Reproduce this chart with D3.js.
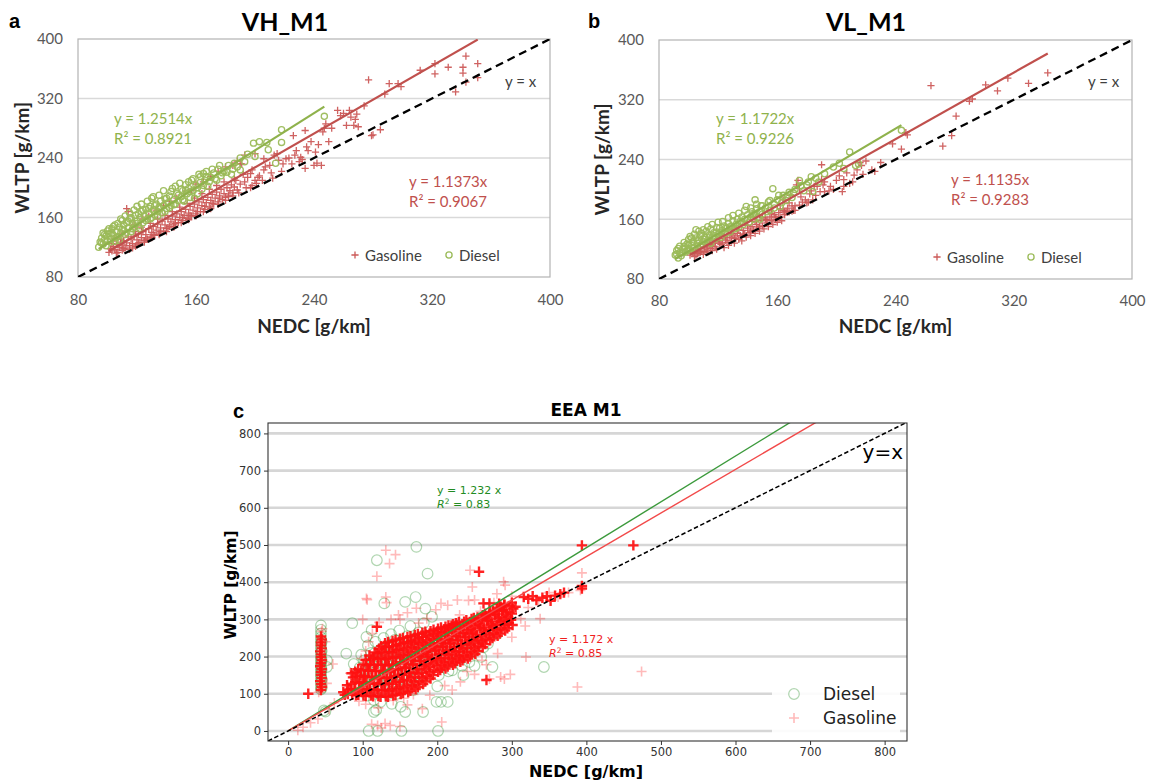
<!DOCTYPE html>
<html>
<head>
<meta charset="utf-8">
<script src="https://cdn.jsdelivr.net/npm/d3@7"></script>
<style>
  body { margin: 0; background: #fff; }
  svg { display: block; }
</style>
</head>
<body>
<svg id="fig" width="1151" height="783"></svg>
<script>
// ---------------- data: NEDC vs WLTP CO2 [g/km] ----------------
const ticksAB = [80, 160, 240, 320, 400];
const ticksC = [0, 100, 200, 300, 400, 500, 600, 700, 800];
const panelTitles = ["VH_M1", "VL_M1", "EEA M1"];
const seriesNames = ["Gasoline", "Diesel"];

const slopesVH = [1.1373, 1.2514];   // gasoline, diesel
const r2VH = ["0.9067", "0.8921"];
const slopesVL = [1.1135, 1.1722];
const r2VL = ["0.9283", "0.9226"];
const slopesEEA = [1.172, 1.232];
const r2EEA = ["0.85", "0.83"];

// VH_M1 gasoline
const gasolineVH = [
[101,113],[102,118],[103,115],[104,121],[105,117],[106,124],[107,113],[108,120],[109,127],[110,116],
[110,123],[111,129],[112,119],[113,126],[113,172],[114,168],[115,122],[116,131],[117,125],[118,135],
[119,121],[120,130],[121,138],[122,126],[123,133],[124,141],[125,129],[126,137],[127,131],[128,145],
[129,134],[130,140],[131,148],[132,136],[133,143],[134,151],[135,139],[136,146],[137,155],[138,142],
[139,150],[140,145],[141,158],[142,148],[143,154],[144,162],[145,150],[146,157],[147,165],[148,153],
[149,160],[150,168],[151,156],[152,163],[153,171],[154,159],[155,166],[156,175],[157,162],[158,170],
[159,178],[160,165],[161,173],[162,181],[163,168],[164,176],[165,184],[166,171],[167,180],[168,187],
[169,174],[170,183],[171,191],[172,178],[173,186],[174,194],[175,181],[176,189],[177,198],[178,184],
[179,192],[180,187],[181,200],[182,190],[183,196],[184,204],[185,193],[186,201],[187,210],[188,197],
[190,205],[191,232],[193,244],[193,208],[195,214],[197,219],[197,200],[198,203],[200,246],[200,210],
[201,206],[203,216],[205,210],[206,224],[206,239],[210,230],[212,213],[213,244],[216,237],[218,222],
[221,239],[225,232],[226,270],[227,244],[230,235],[231,241],[234,277],[234,226],[235,255],[236,250],
[240,230],[241,248],[242,233],[245,230],[246,275],[247,280],[248,286],[256,304],[258,297],[262,284],
[264,304],[265,295],[267,284],[269,299],[270,282],[277,345],[279,270],[280,271],[285,278],[288,326],
[291,340],[297,340],[299,336],[312,358],[322,367],[322,353],[331,362],[336,329],[341,362],[341,354],
[343,342],[343,377],[351,367],[351,348],
[115,117],[125,127],[135,137],[140,141],[150,153],[155,157],[160,162],[165,168],[170,172],[175,178],
[180,183],[185,189],[145,147],[130,133],[120,123],
[105,132],[110,138],[118,150],[124,158],[128,162],[133,170],[138,176],[142,182],[147,186],[152,192],
[157,197],[160,205],[165,208],[170,215],[175,222],[180,228],[185,230],[188,236],[190,232],
[103,125],[106,112],[109,131],[111,118],[114,134],[117,119],[119,141],[121,126],[123,147],[126,131],
[129,152],[131,137],[134,158],[136,141],[139,163],[141,146],[144,168],[146,152],[149,174],[151,160],
[154,179],[156,163],[159,186],[161,168],[164,192],[166,175],[169,198],[171,179],[174,203],[176,186],
[179,208],[182,188],[186,212],[189,193],[192,218],[194,200],[198,224],[202,214],[207,228],[211,220],
[215,246],[219,232],[223,240],[228,250],[232,238],[238,262],[243,258],[250,262],[252,280],[260,300],
[268,292],[274,310]
];

// VH_M1 diesel
const dieselVH = [
[94,120],[95,127],[96,132],[97,124],[97,139],[98,130],[99,135],[100,128],[100,142],[101,138],
[102,131],[103,145],[104,136],[105,128],[105,150],[106,141],[107,134],[108,147],[109,139],[110,156],
[110,144],[111,150],[112,137],[113,153],[114,146],[115,158],[116,141],[116,160],[117,152],[118,147],
[119,163],[120,155],[120,175],[121,149],[122,160],[123,168],[124,153],[125,162],[126,171],[127,158],
[128,166],[129,175],[130,186],[130,160],[131,170],[132,164],[133,178],[134,168],[135,174],[136,182],
[137,166],[138,176],[139,185],[140,172],[141,180],[142,189],[143,176],[144,199],[145,184],[146,178],
[147,192],[148,183],[149,206],[150,188],[151,196],[152,182],[153,204],[154,192],[155,199],[156,187],
[157,210],[158,196],[160,203],[161,192],[162,218],[163,207],[164,198],[165,219],[166,210],[167,215],
[168,202],[170,214],[172,220],[174,210],[175,225],[177,216],[179,222],[181,221],[184,218],[186,233],
[188,228],[190,224],[193,235],[199,260],[203,262],[208,261],[209,251],[214,233],[218,278],[218,261],
[247,296],
[96,126],[98,137],[99,122],[101,145],[102,127],[103,139],[104,148],[106,133],[107,152],[108,129],
[109,158],[111,143],[112,162],[113,140],[114,155],[115,166],[117,145],[118,170],[119,152],[121,165],
[122,145],[123,178],[124,170],[126,156],[127,182],[128,172],[129,158],[131,188],[132,176],[134,162],
[135,190],[136,172],[138,196],[139,168],[140,186],[142,173],[143,195],[145,177],[146,202],[148,190],
[150,198],[151,184],[153,197],[155,208],[156,195],[158,212],[159,186],[161,200],[163,215],[165,203],
[167,222],[169,208],[171,225],[173,212],[176,230],[178,220],[182,230],[185,225],[190,240],[195,245],
[200,242]
];

// VL_M1 gasoline
const gasolineVL = [
[101,112],[103,116],[104,110],[105,119],[106,114],[107,115],[108,121],[109,117],[110,113],[111,123],
[112,119],[113,116],[114,126],[115,121],[116,118],[117,128],[118,123],[119,120],[120,131],[121,134],
[122,126],[123,128],[124,122],[125,132],[126,129],[127,125],[128,136],[129,131],[130,139],[131,128],
[132,135],[133,141],[134,133],[135,138],[136,131],[137,145],[138,140],[139,136],[140,148],[141,142],
[142,138],[143,150],[144,145],[145,141],[146,153],[147,148],[148,144],[149,158],[150,151],[151,147],
[152,160],[153,155],[154,150],[155,163],[156,158],[157,153],[158,166],[159,160],[160,156],[161,169],
[162,163],[163,158],[164,186],[164,172],[165,166],[166,170],[167,175],[168,170],[169,192],[170,171],
[170,178],[171,172],[172,172],[173,206],[174,212],[175,201],[175,179],[177,183],[180,182],[181,183],
[182,194],[184,186],[185,204],[187,204],[189,197],[190,233],[190,213],[191,206],[192,197],[196,204],
[198,200],[202,218],[204,197],[205,204],[205,213],[209,208],[211,210],[212,219],[216,236],[217,232],
[218,220],[224,226],[226,224],[230,236],[238,261],[244,254],[247,276],[248,273],[264,339],[272,258],
[278,272],[281,298],[290,318],[292,321],[301,340],[309,332],[316,349],[330,342],[343,356],
[105,112],[108,116],[111,117],[113,125],[116,124],[118,130],[121,128],[124,137],[126,135],[129,141],
[131,134],[134,146],[137,140],[140,152],[142,144],[145,157],[148,150],[150,162],[153,159],[156,168],
[159,163],[162,174],[165,170],[168,182],[172,178],[176,190],[179,186],[183,198],[186,192],[192,210],
[195,198],[200,212],[207,222],[214,226],[220,238]
];

// VL_M1 diesel
const dieselVL = [
[91,112],[92,118],[93,108],[93,121],[94,115],[95,111],[96,120],[97,124],[98,116],[99,127],
[100,121],[100,133],[101,118],[101,137],[102,125],[103,130],[104,122],[105,135],[105,146],[106,128],
[107,132],[108,138],[108,125],[109,141],[110,130],[111,136],[112,144],[113,132],[114,139],[115,128],
[115,147],[116,136],[117,142],[118,134],[119,149],[120,140],[121,148],[122,136],[123,145],[124,151],
[125,141],[126,148],[127,154],[128,143],[129,150],[130,158],[131,147],[132,153],[133,160],[134,150],
[135,157],[136,163],[137,153],[138,160],[139,177],[140,166],[141,156],[142,163],[143,170],[144,160],
[145,186],[145,167],[146,174],[147,163],[148,170],[149,178],[150,167],[152,175],[154,183],[155,172],
[157,201],[158,180],[160,186],[162,177],[164,192],[166,185],[168,196],[170,189],[172,200],[175,212],
[178,198],[180,206],[183,217],[184,197],[188,210],[192,221],[198,230],[202,235],[205,228],[209,250],
[215,234],[213,232],[244,279],
[92,113],[94,124],[96,115],[97,129],[99,118],[100,126],[102,135],[103,121],[104,140],[106,131],
[107,144],[109,127],[110,146],[111,133],[113,150],[114,136],[116,153],[117,138],[119,143],[120,156],
[122,142],[123,157],[125,148],[127,162],[128,150],[130,165],[132,148],[134,168],[136,156],[138,172],
[140,160],[142,175],[144,166],[146,180],[148,160],[150,178],[153,170],[155,185],[158,175],[161,192],
[163,182],[167,190],[171,195],[176,205],[181,210],[186,215]
];

// EEA M1 diesel
const dieselEEA = [
[44,112],[44,120],[44,128],[44,136],[44,145],[44,152],[44,160],[44,168],[44,176],[44,185],
[44,193],[44,201],[44,210],[44,218],[44,226],[44,235],[44,243],[44,252],[44,262],[44,272],
[44,284],[45,116],[45,140],[45,165],[45,190],[45,215],[45,240],[52,172],[52,190],[50,52],[48,55],
[78,208],[86,290],[88,180],[92,150],[95,120],[96,170],[98,205],[100,110],[100,140],[102,190],
[104,160],[105,253],[106,95],[107,230],[108,130],[108,0],[110,175],[111,210],[112,271],[112,150],
[113,120],[114,185],[115,83],[115,51],[116,100],[117,240],[118,160],[118,56],[119,459],[120,0],
[120,200],[121,135],[122,175],[124,78],[124,220],[125,150],[126,190],[127,110],[128,250],[129,343],
[130,165],[131,205],[132,140],[133,180],[134,230],[135,120],[136,195],[137,155],[138,260],[139,73],
[140,175],[141,210],[142,130],[143,245],[144,165],[145,190],[146,100],[147,220],[148,150],[149,270],
[150,180],[151,65],[152,0],[153,205],[154,140],[155,235],[156,170],[157,347],[157,51],[158,195],
[159,120],[160,255],[161,160],[162,215],[163,185],[164,282],[165,140],[166,225],[167,200],[168,110],
[169,245],[170,175],[171,360],[172,495],[173,210],[174,150],[175,265],[176,190],[177,230],[178,130],
[180,205],[181,51],[182,290],[183,170],[184,329],[185,240],[186,210],[187,423],[188,150],[190,225],
[192,185],[193,307],[194,260],[196,200],[198,240],[199,78],[200,120],[201,0],[202,150],[203,215],
[205,78],[206,250],[208,180],[210,230],[212,200],[214,78],[215,160],[217,240],[220,163],[222,210],
[225,270],[228,190],[230,225],[233,175],[235,150],[238,250],[240,205],[243,185],[244,235],[246,215],
[250,175],[252,230],[256,257],[259,199],[262,225],[268,235],[274,172],[280,260],[343,172]
];

// EEA M1 gasoline, isolated vehicles
const gasolineEEA = [
[13,2],[20,10],[30,22],[40,32],[55,58],[62,75],[45,268],[46,275],[41,104],[50,240],[52,128],[60,180],
[83,155],[119,416],[131,486],[136,450],[144,474],[106,353],[131,360],[132,345],[119,280],[105,356],
[120,15],[130,20],[137,15],[206,24],[125,8],[150,12],[112,18],
[205,343],[227,352],[242,351],[250,352],[244,432],[247,387],[289,401],[291,392],[280,369],
[394,425],[388,118],[474,160],[319,199],[290,140],[285,145],[298,152],[270,140],
[98,195],[104,215],[108,240],[113,262],[122,292],[138,300],[148,312],[160,318],[172,330],[186,302],
[198,326],[214,338],[230,312],[258,322],[276,345],[300,362],[312,302],[322,332],[336,350],[350,372],
[362,360],[376,372],[392,378],
[95,80],[104,72],[121,62],[141,82],[155,88],[168,98],[190,96],[210,122],[231,132],[250,152],
[266,178],[281,208],[300,252],[318,282],[338,302],
[100,300],[150,300],[175,290],[160,70],[180,60],[220,110],[240,160],[260,190]
];

// EEA M1 gasoline, heavily repeated NEDC/WLTP pairs
const gasolineEEARepeated = [
[44,110],[45,118],[44,126],[43,134],[45,142],[44,150],[44,158],[45,166],[43,174],[44,182],
[45,190],[44,198],[44,206],[43,214],[45,222],[44,230],[44,238],[45,246],[44,254],
[27,100],[85,155],[119,280],[394,499],[463,499],[394,383],[394,390],[256,428],[262,343],[270,343],
[266,137],[283,342],[290,340],[300,345],[305,334],[316,360],[322,355],[328,362],[333,352],[341,358],
[347,362],[352,350],[358,364],[365,368],[370,372],
[76,97],[74,104],[80,99],[81,111],[79,123],[86,97],[84,113],[85,127],[87,144],
[91,96],[89,112],[90,131],[92,146],[90,159],[94,97],[96,114],[95,129],[97,149],[94,166],
[101,95],[99,113],[100,131],[102,146],[98,163],[101,179],
[104,94],[106,111],[105,130],[103,147],[107,162],[105,177],[104,191],
[111,95],[109,112],[110,127],[112,144],[108,163],[110,179],[111,192],[109,203],
[114,93],[116,110],[115,129],[113,146],[117,161],[115,177],[114,196],[116,211],
[121,94],[119,111],[120,126],[122,143],[118,162],[120,179],[121,194],[119,209],[122,221],
[124,92],[126,109],[125,128],[123,145],[127,160],[125,177],[124,196],[126,213],[125,228],
[131,93],[129,110],[130,125],[132,142],[128,161],[130,178],[131,193],[129,210],[131,225],[130,236],
[134,92],[136,108],[135,127],[133,144],[137,159],[135,176],[134,195],[136,212],[135,226],[134,239],
[141,95],[139,112],[140,127],[142,146],[138,163],[140,178],[141,197],[139,212],[141,228],[140,242],
[144,97],[146,113],[145,132],[143,147],[147,166],[145,181],[144,198],[146,217],[145,231],[144,245],
[151,99],[149,117],[150,132],[152,151],[148,166],[150,185],[151,200],[149,219],[151,233],[150,248],
[154,102],[156,117],[155,136],[153,151],[157,170],[155,185],[154,204],[156,219],[155,237],[154,250],
[161,104],[159,122],[160,137],[162,156],[158,171],[160,190],[161,205],[159,224],[161,239],[160,253],
[164,108],[166,124],[165,143],[163,158],[167,177],[165,192],[164,211],[166,226],[165,242],[164,255],
[171,113],[169,131],[170,146],[172,165],[168,180],[170,199],[171,214],[169,233],[171,246],[170,258],
[174,118],[176,134],[175,153],[173,168],[177,187],[175,202],[174,221],[176,236],[175,251],[174,261],
[181,126],[179,143],[180,157],[182,175],[178,189],[180,207],[181,221],[179,239],[181,253],[180,264],
[184,133],[186,148],[185,166],[183,180],[187,198],[185,212],[184,230],[186,244],[185,259],[184,267],
[191,141],[189,158],[190,172],[192,190],[188,204],[190,222],[191,236],[189,254],[191,268],
[194,150],[196,165],[195,183],[193,197],[197,215],[195,229],[194,247],[196,260],[195,272],
[201,159],[199,176],[200,189],[202,206],[198,219],[200,236],[201,249],[199,265],[201,275],
[204,164],[206,178],[205,195],[203,208],[207,225],[205,238],[204,255],[206,267],[205,278],
[211,168],[209,184],[210,197],[212,214],[208,227],[210,244],[211,257],[209,273],[211,280],
[214,173],[216,187],[215,204],[213,217],[217,234],[215,247],[214,264],[216,276],[215,284],
[221,178],[219,194],[220,207],[222,224],[218,237],[220,254],[221,267],[219,283],[221,287],
[224,182],[226,196],[225,213],[223,226],[227,243],[225,256],[224,273],[226,285],[225,290],
[231,186],[229,202],[230,215],[232,232],[228,245],[230,262],[231,275],[229,293],
[234,190],[236,204],[235,221],[233,234],[237,251],[235,264],[234,281],[236,294],
[241,195],[239,211],[240,224],[242,241],[238,254],[240,271],[241,284],[239,298],
[244,200],[246,214],[245,231],[243,244],[247,261],[245,274],[244,291],[246,301],
[251,207],[249,223],[250,236],[252,253],[248,266],[250,283],[251,296],[249,304],
[254,215],[256,229],[255,246],[253,259],[257,276],[255,289],[254,305],
[261,225],[259,241],[260,254],[262,271],[258,284],[260,301],[261,311],
[264,234],[266,248],[265,265],[263,278],[267,295],[265,308],[264,315],
[271,244],[269,259],[270,271],[272,287],[268,299],[270,315],[271,320],
[274,250],[276,264],[275,281],[273,294],[277,311],[275,323],
[281,256],[279,272],[280,285],[282,302],[278,315],[280,330],
[284,262],[286,276],[285,293],[283,306],[287,323],[285,334],
[291,270],[289,285],[290,297],[292,313],[288,325],[290,338],
[294,276],[296,290],[295,307],[293,320],[297,336],
[301,285],[299,299],[300,316],[302,329]
];

// ---------------- drawing ----------------
const svg = d3.select("#fig");
const excelFont = "Lato, 'Open Sans', 'Liberation Sans', sans-serif";
const mplFont = "'DejaVu Sans', Verdana, sans-serif";
const excelRed = "#c0504d";
const excelGreen = "#9bbb59";

const plusPath = s => `M${-s},0H${s}M0,${-s}V${s}`;

function drawPlus(g, pts, x, y, s, color, width, opacity) {
  g.append("g").selectAll("path").data(pts).join("path")
    .attr("d", plusPath(s))
    .attr("transform", d => `translate(${x(d[0])},${y(d[1])})`)
    .attr("fill", "none").attr("stroke", color)
    .attr("stroke-width", width).attr("stroke-opacity", opacity);
}
function drawRings(g, pts, x, y, r, color, width, opacity) {
  g.append("g").selectAll("circle").data(pts).join("circle")
    .attr("cx", d => x(d[0])).attr("cy", d => y(d[1])).attr("r", r)
    .attr("fill", "none").attr("stroke", color)
    .attr("stroke-width", width).attr("stroke-opacity", opacity);
}
function text(g, str, px, py, o) {
  const t = g.append("text").attr("x", px).attr("y", py)
    .attr("font-family", o.font).attr("font-size", o.size)
    .attr("font-weight", o.weight || "normal")
    .attr("fill", o.color || "#000")
    .attr("text-anchor", o.anchor || "start");
  if (o.rotate) t.attr("transform", `rotate(-90,${px},${py})`);
  t.text(str);
  return t;
}

// Excel-style panel (a, b)
function excelPanel(p) {
  const g = svg.append("g");
  const x = d3.scaleLinear().domain([ticksAB[0], ticksAB[4]]).range([p.left, p.right]);
  const y = d3.scaleLinear().domain([ticksAB[0], ticksAB[4]]).range([p.bottom, p.top]);

  g.append("g").selectAll("line").data(ticksAB.slice(1, -1)).join("line")
    .attr("x1", p.left).attr("x2", p.right)
    .attr("y1", d => y(d)).attr("y2", d => y(d))
    .attr("stroke", "#d9d9d9").attr("stroke-width", 1.4);
  g.append("rect").attr("x", p.left).attr("y", p.top)
    .attr("width", p.right - p.left).attr("height", p.bottom - p.top)
    .attr("fill", "none").attr("stroke", "#b3b3b3").attr("stroke-width", 1.2);

  const ax = g.append("g").attr("transform", `translate(0,${p.bottom})`)
    .call(d3.axisBottom(x).tickValues(ticksAB).tickSize(0).tickPadding(p.xPad));
  const ay = g.append("g").attr("transform", `translate(${p.left},0)`)
    .call(d3.axisLeft(y).tickValues(ticksAB).tickSize(0).tickPadding(p.yPad));
  [ax, ay].forEach(a => {
    a.select(".domain").remove();
    a.attr("font-family", excelFont).attr("font-size", 15);
    a.selectAll("text").attr("fill", "#595959");
  });

  const clipId = "clip" + p.key;
  g.append("clipPath").attr("id", clipId).append("rect")
    .attr("x", p.left).attr("y", p.top)
    .attr("width", p.right - p.left).attr("height", p.bottom - p.top);
  const plot = g.append("g").attr("clip-path", `url(#${clipId})`);

  drawPlus(plot, p.gasoline, x, y, 3.6, "#cc5a58", 1.3, 0.95);
  drawRings(plot, p.diesel, x, y, 3.1, excelGreen, 1.3, 0.95);

  // trendlines through the origin over each series' NEDC range
  const fit = (data, k, color) => {
    const ext = d3.extent(data, d => d[0]);
    plot.append("line")
      .attr("x1", x(ext[0])).attr("y1", y(k * ext[0]))
      .attr("x2", x(ext[1])).attr("y2", y(k * ext[1]))
      .attr("stroke", color).attr("stroke-width", 2.2);
  };
  fit(p.gasoline, p.slopes[0], excelRed);
  fit(p.diesel, p.slopes[1], "#8fb24c");

  plot.append("line")
    .attr("x1", x(ticksAB[0])).attr("y1", y(ticksAB[0]))
    .attr("x2", x(ticksAB[4])).attr("y2", y(ticksAB[4]))
    .attr("stroke", "#000").attr("stroke-width", 2.3).attr("stroke-dasharray", "8,5");

  // labels
  text(g, p.letter, p.letterX, 28, {font: "'Liberation Sans', Arial, sans-serif", size: 20, weight: "bold"});
  text(g, p.title, p.titleX, 31, {font: excelFont, size: 25, weight: "bold", anchor: "middle"});
  text(g, "WLTP [g/km]", p.yTitleX, (p.top + p.bottom) / 2, {font: excelFont, size: 19, weight: "bold", anchor: "middle", rotate: true, color: "#262626"});
  text(g, "NEDC [g/km]", (p.left + p.right) / 2, 333, {font: excelFont, size: 19, weight: "bold", anchor: "middle", color: "#262626"});

  text(g, `y = ${p.slopes[1]}x`, p.dEqX, 124, {font: excelFont, size: 15, color: "#8fb24c"});
  text(g, `R² = ${p.r2[1]}`, p.dEqX, 144, {font: excelFont, size: 15, color: "#8fb24c"});
  text(g, `y = ${p.slopes[0]}x`, p.gEqX, p.gEqY, {font: excelFont, size: 15, color: excelRed});
  text(g, `R² = ${p.r2[0]}`, p.gEqX, p.gEqY + 20, {font: excelFont, size: 15, color: excelRed});
  text(g, "y = x", p.idX, 87, {font: excelFont, size: 15, color: "#404040"});

  // legend
  const ly = p.legY;
  g.append("path").attr("d", plusPath(3.6))
    .attr("transform", `translate(${p.legX},${ly})`)
    .attr("stroke", "#cc5a58").attr("stroke-width", 1.3).attr("fill", "none");
  text(g, seriesNames[0], p.legX + 10, ly + 5.5, {font: excelFont, size: 15, color: "#404040"});
  g.append("circle").attr("cx", p.legX + 94).attr("cy", ly).attr("r", 3.1)
    .attr("fill", "none").attr("stroke", excelGreen).attr("stroke-width", 1.3);
  text(g, seriesNames[1], p.legX + 104, ly + 5.5, {font: excelFont, size: 15, color: "#404040"});
}

excelPanel({
  key: "VH", letter: "a", letterX: 9, title: panelTitles[0], titleX: 285,
  left: 78, right: 550, top: 39, bottom: 277, xPad: 17, yPad: 15, yTitleX: 29,
  gasoline: gasolineVH, diesel: dieselVH, slopes: slopesVH, r2: r2VH,
  dEqX: 114, gEqX: 409, gEqY: 187, idX: 505, legX: 355, legY: 255
});
excelPanel({
  key: "VL", letter: "b", letterX: 588, title: panelTitles[1], titleX: 866,
  left: 659, right: 1132, top: 40, bottom: 279, xPad: 16, yPad: 15, yTitleX: 609,
  gasoline: gasolineVL, diesel: dieselVL, slopes: slopesVL, r2: r2VL,
  dEqX: 716, gEqX: 951, gEqY: 185, idX: 1088, legX: 937, legY: 257
});

// matplotlib-style panel (c)
(function eeaPanel() {
  const p = {left: 268, right: 907, top: 423, bottom: 741};
  const g = svg.append("g");
  const lim = [-27, 830];
  const x = d3.scaleLinear().domain(lim).range([p.left, p.right]);
  const y = d3.scaleLinear().domain([-27, 828]).range([p.bottom, p.top]);

  g.append("g").selectAll("line").data(ticksC).join("line")
    .attr("x1", p.left).attr("x2", p.right)
    .attr("y1", d => y(d)).attr("y2", d => y(d))
    .attr("stroke", "#d6d6d6").attr("stroke-width", 2.6);

  g.append("clipPath").attr("id", "clipEEA").append("rect")
    .attr("x", p.left).attr("y", p.top)
    .attr("width", p.right - p.left).attr("height", p.bottom - p.top);
  const plot = g.append("g").attr("clip-path", "url(#clipEEA)");

  drawRings(plot, dieselEEA, x, y, 5.3, "#1f8a1f", 1.2, 0.35);
  drawPlus(plot, gasolineEEA, x, y, 5, "#ff1a1a", 1.6, 0.3);
  drawPlus(plot, gasolineEEARepeated, x, y, 5.2, "#ff1010", 2.4, 0.92);

  // fitted lines y = kx from the origin
  const fitEnd = lim[1];
  plot.append("line").attr("x1", x(0)).attr("y1", y(0))
    .attr("x2", x(fitEnd)).attr("y2", y(slopesEEA[1] * fitEnd))
    .attr("stroke", "#3c9a3c").attr("stroke-width", 1.4);
  plot.append("line").attr("x1", x(0)).attr("y1", y(0))
    .attr("x2", x(fitEnd)).attr("y2", y(slopesEEA[0] * fitEnd))
    .attr("stroke", "#f24a4a").attr("stroke-width", 1.4);
  plot.append("line").attr("x1", x(lim[0])).attr("y1", y(lim[0]))
    .attr("x2", x(lim[1])).attr("y2", y(lim[1]))
    .attr("stroke", "#000").attr("stroke-width", 1.5).attr("stroke-dasharray", "4.5,2.5");

  // legend (white box over grid)
  const leg = g.append("g");
  leg.append("rect").attr("x", 772).attr("y", 676).attr("width", 128).attr("height", 61)
    .attr("fill", "#fff").attr("fill-opacity", 0.9);
  leg.append("circle").attr("cx", 794).attr("cy", 694).attr("r", 5.3)
    .attr("fill", "none").attr("stroke", "#1f8a1f").attr("stroke-width", 1.2).attr("stroke-opacity", 0.35);
  text(leg, "Diesel", 823, 700, {font: mplFont, size: 17, color: "#222"});
  leg.append("path").attr("d", plusPath(5)).attr("transform", "translate(794,718)")
    .attr("stroke", "#ff1a1a").attr("stroke-width", 1.6).attr("stroke-opacity", 0.3).attr("fill", "none");
  text(leg, "Gasoline", 823, 724, {font: mplFont, size: 17, color: "#222"});

  // spines and axes
  g.append("rect").attr("x", p.left).attr("y", p.top)
    .attr("width", p.right - p.left).attr("height", p.bottom - p.top)
    .attr("fill", "none").attr("stroke", "#333").attr("stroke-width", 1.1);
  const ax = g.append("g").attr("transform", `translate(0,${p.bottom})`)
    .call(d3.axisBottom(x).tickValues(ticksC).tickSize(4).tickPadding(3));
  const ay = g.append("g").attr("transform", `translate(${p.left},0)`)
    .call(d3.axisLeft(y).tickValues(ticksC).tickSize(4).tickPadding(3));
  [ax, ay].forEach(a => {
    a.select(".domain").remove();
    a.attr("font-family", mplFont).attr("font-size", 11.5);
    a.selectAll("line").attr("stroke", "#333");
    a.selectAll("text").attr("fill", "#333");
  });

  // labels
  text(g, "c", 233, 418, {font: "'Liberation Sans', Arial, sans-serif", size: 20, weight: "bold"});
  text(g, panelTitles[2], 586, 416, {font: mplFont, size: 17, weight: "bold", anchor: "middle"});
  text(g, "NEDC [g/km]", 586, 777, {font: mplFont, size: 16, weight: "bold", anchor: "middle"});
  text(g, "WLTP [g/km]", 236, 585, {font: mplFont, size: 15.5, weight: "bold", anchor: "middle", rotate: true});
  text(g, "y=x", 903, 459, {font: mplFont, size: 20, anchor: "end"});

  const eq = (k, r2, px, py, color) => {
    text(g, `y = ${k} x`, px, py, {font: mplFont, size: 11, color: color});
    const t = g.append("text").attr("x", px).attr("y", py + 14)
      .attr("font-family", mplFont).attr("font-size", 11).attr("fill", color);
    t.append("tspan").attr("font-style", "italic").text("R");
    t.append("tspan").attr("font-size", 7.5).attr("dy", -4.5).text("2");
    t.append("tspan").attr("dy", 4.5).text(` = ${r2}`);
  };
  eq(slopesEEA[1], r2EEA[1], 437, 494, "#228b22");
  eq(slopesEEA[0], r2EEA[0], 549, 643, "#f01e1e");
})();
</script>
</body>
</html>
